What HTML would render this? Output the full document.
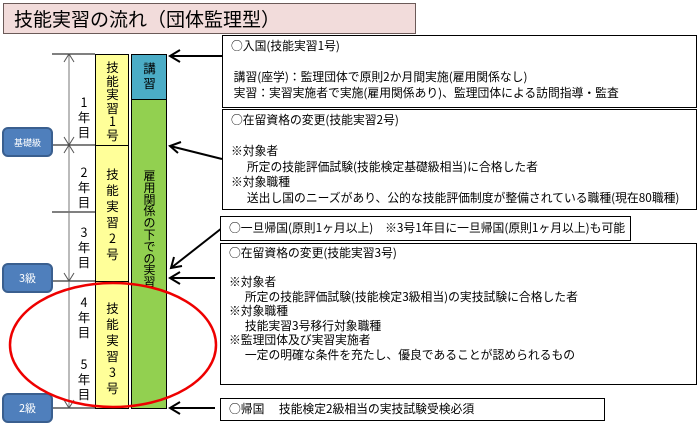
<!DOCTYPE html>
<html><head><meta charset="utf-8"><style>
body{margin:0;width:699px;height:426px;background:#fff;position:relative;overflow:hidden;font-family:"Noto Sans CJK JP","Liberation Sans",sans-serif;color:#000}
.a{position:absolute}
.box{position:absolute;border:1px solid #000;background:#fff;box-sizing:border-box;font-size:11.8px;line-height:15.5px;padding:2px 8px;white-space:nowrap}
.v{position:absolute;text-align:center;font-size:12.5px;line-height:15px}
.badge{position:absolute;left:2px;width:51px;height:30px;background:#4f7fbc;border:2px solid #3a5f8f;border-radius:6px;box-sizing:border-box;color:#fff;font-size:11px;display:flex;align-items:center;justify-content:center}
</style></head><body>
<div class="a" style="left:3px;top:3px;width:413px;height:31px;background:#f2dcdb;border:1px solid #6b5a58;box-sizing:border-box;font-size:19px;line-height:29px;padding-left:10px">技能実習の流れ（団体監理型）</div>

<svg class="a" style="left:0;top:0" width="699" height="426">
<g stroke="#000" stroke-width="1">
<line x1="52" y1="54" x2="95" y2="54"/><line x1="52" y1="145" x2="95" y2="145"/>
<line x1="52" y1="212" x2="95" y2="212"/><line x1="52" y1="281" x2="95" y2="281"/>
<line x1="52" y1="408" x2="95" y2="408"/>
</g>
<line x1="69" y1="54" x2="69" y2="408" stroke="#777" stroke-width="1"/>
<g stroke="#555" fill="none"><polyline points="64,62 69,54 74,62"/><polyline points="64,137 69,145 74,137"/><polyline points="64,153 69,145 74,153"/><polyline points="64,273 69,281 74,273"/><polyline points="64,400 69,408 74,400"/></g>
<rect x="95.5" y="54.5" width="33" height="91" fill="#ffff99" stroke="#000"/>
<rect x="95.5" y="145.5" width="33" height="136" fill="#ffff99" stroke="#000"/>
<rect x="95.5" y="281.5" width="33" height="127" fill="#ffff99" stroke="#000"/>
<rect x="131.5" y="54.5" width="35" height="45" fill="#4bacc6" stroke="#000"/>
<rect x="131.5" y="99.5" width="35" height="309" fill="#92d050" stroke="#000"/>
<g stroke="#000" stroke-width="2" fill="none">
<line x1="222" y1="56" x2="170" y2="56"/><polyline points="180,50 170,56 180,62"/>
<line x1="222" y1="159" x2="170" y2="146"/><polyline points="181,142 170,146 178,153"/>
<line x1="222" y1="228" x2="171" y2="268"/><polyline points="174,257 171,268 182,266"/>
<line x1="215" y1="278" x2="170" y2="278"/><polyline points="180,272 170,278 180,284"/>
<line x1="215" y1="408" x2="170" y2="408"/><polyline points="180,402 170,408 180,414"/>
</g>
</svg>

<div class="v" style="left:75px;top:94px;width:18px">1<br>年<br>目</div>
<div class="v" style="left:75px;top:164px;width:18px">2<br>年<br>目</div>
<div class="v" style="left:75px;top:224px;width:18px">3<br>年<br>目</div>
<div class="v" style="left:75px;top:294px;width:18px">4<br>年<br>目</div>
<div class="v" style="left:75px;top:356px;width:18px">5<br>年<br>目</div>

<div class="v" style="left:96px;top:60px;width:33px;line-height:13.5px">技<br>能<br>実<br>習<br>1<br>号</div>
<div class="v" style="left:96px;top:166px;width:33px;line-height:16px">技<br>能<br>実<br>習<br>2<br>号</div>
<div class="v" style="left:96px;top:300px;width:33px;line-height:16px">技<br>能<br>実<br>習<br>3<br>号</div>
<div class="v" style="left:132px;top:60px;width:35px;line-height:15px">講<br>習</div>
<div class="v" style="left:132px;top:170px;width:35px;line-height:11.8px;font-size:12px">雇<br>用<br>関<br>係<br>の<br>下<br>で<br>の<br>実<br>習</div>

<div class="badge" style="top:127px;font-size:9px">基礎級</div>
<div class="badge" style="top:263px">3級</div>
<div class="badge" style="top:393px">2級</div>

<svg class="a" style="left:0;top:0" width="699" height="426"><ellipse cx="113" cy="345" rx="103" ry="62" fill="none" stroke="#e00" stroke-width="2.5"/></svg>

<div class="box" style="left:222px;top:35px;width:475px;height:73px">○入国(技能実習1号)<br><br>&nbsp;講習(座学)：監理団体で原則2か月間実施(雇用関係なし)<br>&nbsp;実習：実習実施者で実施(雇用関係あり)、監理団体による訪問指導・監査</div>
<div class="box" style="left:222px;top:109px;width:475px;height:101px">○在留資格の変更(技能実習2号)<br><br>※対象者<br>&nbsp;&nbsp;&nbsp;&nbsp;&nbsp;&nbsp;所定の技能評価試験(技能検定基礎級相当)に合格した者<br>※対象職種<br>&nbsp;&nbsp;&nbsp;&nbsp;&nbsp;&nbsp;送出し国のニーズがあり、公的な技能評価制度が整備されている職種(現在80職種)</div>
<div class="box" style="left:220px;top:216px;width:411px;height:25px;padding-top:3px">○一旦帰国(原則1ヶ月以上)　※3号1年目に一旦帰国(原則1ヶ月以上)も可能</div>
<div class="box" style="left:220px;top:243px;width:477px;height:142px;line-height:14.5px">○在留資格の変更(技能実習3号)<br><br>※対象者<br>&nbsp;&nbsp;&nbsp;&nbsp;&nbsp;&nbsp;所定の技能評価試験(技能検定3級相当)の実技試験に合格した者<br>※対象職種<br>&nbsp;&nbsp;&nbsp;&nbsp;&nbsp;&nbsp;技能実習3号移行対象職種<br>※監理団体及び実習実施者<br>&nbsp;&nbsp;&nbsp;&nbsp;&nbsp;&nbsp;一定の明確な条件を充たし、優良であることが認められるもの</div>
<div class="box" style="left:220px;top:398px;width:385px;height:23px;padding-top:2px">○帰国　 技能検定2級相当の実技試験受検必須</div>
</body></html>
